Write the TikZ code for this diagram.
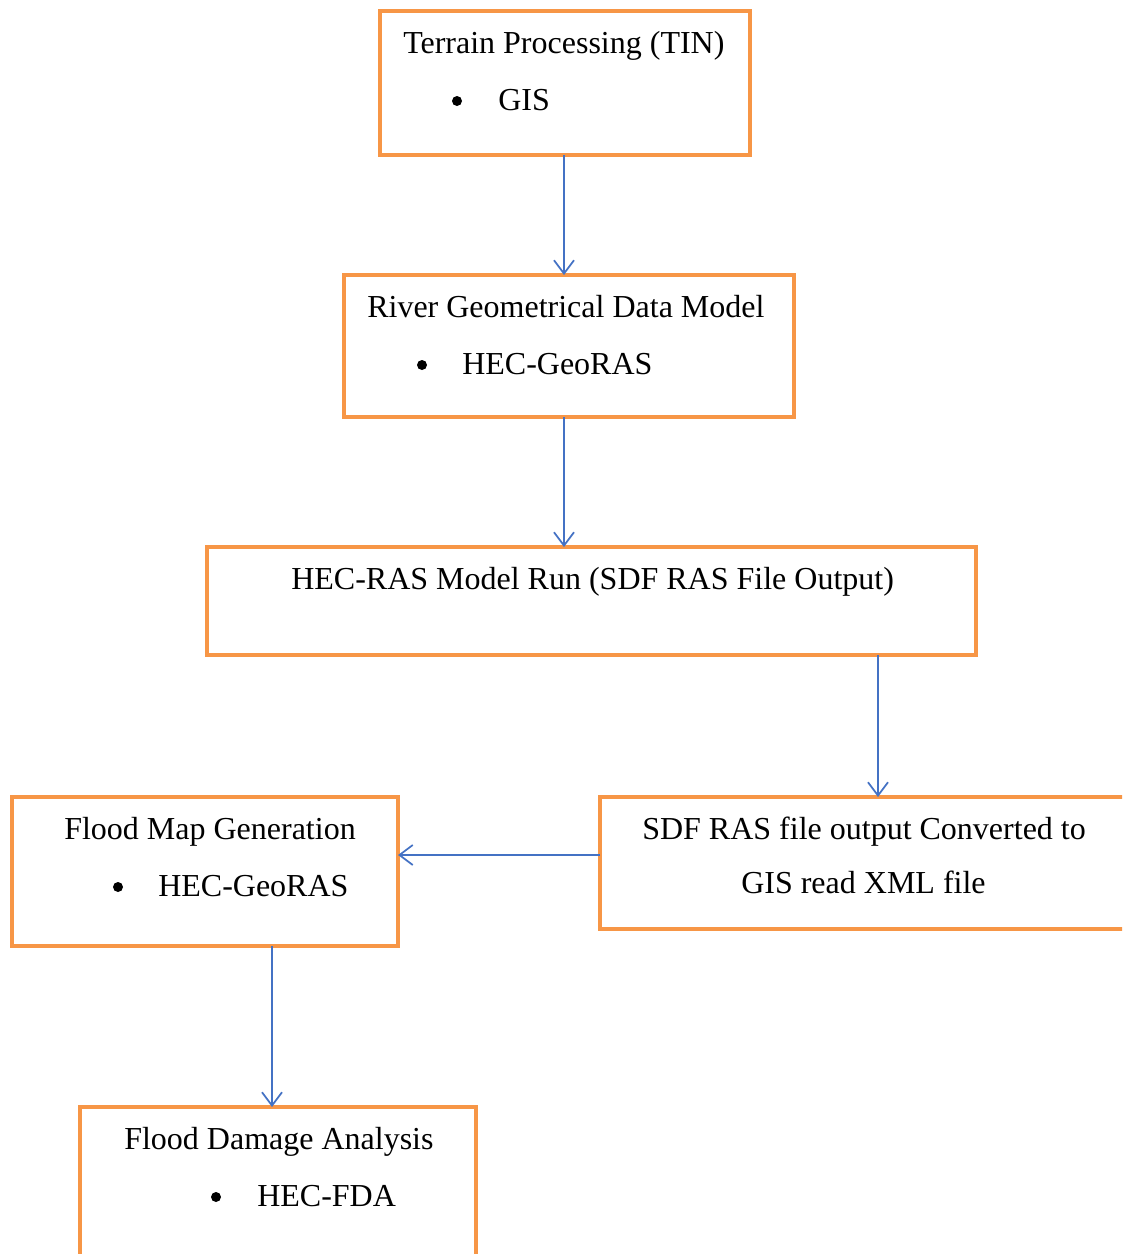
\documentclass[tikz,border=0pt]{standalone}
\usepackage{fontspec}
\setmainfont{Liberation Serif}
\usetikzlibrary{arrows.meta}
\definecolor{boxorange}{RGB}{247,150,70}
\definecolor{arrowblue}{RGB}{68,114,196}
\begin{document}
\begin{tikzpicture}[x=0.75pt,y=-0.75pt,
  box/.style={draw=boxorange,line width=3pt,rectangle,inner sep=0pt,outer sep=0pt},
  lbl/.style={anchor=base west,inner sep=0pt,font=\fontsize{24}{28}\selectfont},
  bul/.style={circle,fill=black,inner sep=0pt,minimum size=7.5pt},
  flow/.style={draw=arrowblue,line width=1.3pt,-{Straight Barb[length=10pt,width=15pt,line width=1.3pt]}}]
\useasboundingbox (0,0) rectangle (1122,1254);
\clip (0,0) rectangle (1122,1254);
% boxes
\node[box,minimum width=370*0.75pt,minimum height=144*0.75pt] (b1) at (565,83) {};
\node[box,minimum width=450*0.75pt,minimum height=142*0.75pt] (b2) at (569,346) {};
\node[box,minimum width=769*0.75pt,minimum height=108*0.75pt] (b3) at (591.5,601) {};
\node[box,minimum width=386*0.75pt,minimum height=149*0.75pt] (b4) at (205,871.5) {};
\node[box,minimum width=540*0.75pt,minimum height=132*0.75pt] (b5) at (870,863) {};
\node[box,minimum width=396*0.75pt,minimum height=180*0.75pt] (b6) at (278,1197) {};
% texts
\node[lbl] (t1) at (403,53) {Terrain Processing (TIN)};
\node[bul] (p1) at (457,101) {};
\node[lbl] (t1b) at (498,110) {GIS};
\node[lbl] (t2) at (367,317) {River Geometrical Data Model};
\node[bul] (p2) at (422,365) {};
\node[lbl] (t2b) at (462,374) {HEC-GeoRAS};
\node[lbl] (t3) at (291,589) {HEC-RAS Model Run (SDF RAS File Output)};
\node[lbl] (t4) at (64,839) {Flood Map Generation};
\node[bul] (p4) at (118,887) {};
\node[lbl] (t4b) at (158,896) {HEC-GeoRAS};
\node[lbl] (t5) at (642,839) {SDF RAS file output Converted to};
\node[lbl] (t5b) at (741,893) {GIS read XML file};
\node[lbl] (t6) at (124,1149) {Flood Damage Analysis};
\node[bul] (p6) at (216,1197) {};
\node[lbl] (t6b) at (257,1206) {HEC-FDA};
% connector guides
\coordinate (c1) at (564,0);
\coordinate (c3) at (878,0);
\coordinate (c4) at (0,855);
\coordinate (c5) at (272,0);
% connectors
\draw[flow] (c1 |- b1.south) -- (c1 |- b2.north);
\draw[flow] (c1 |- b2.south) -- (c1 |- b3.north);
\draw[flow] (c3 |- b3.south) -- (c3 |- b5.north);
\draw[flow] (b5.west |- c4) -- (b4.east |- c4);
\draw[flow] (c5 |- b4.south) -- (c5 |- b6.north);
\end{tikzpicture}
\end{document}
